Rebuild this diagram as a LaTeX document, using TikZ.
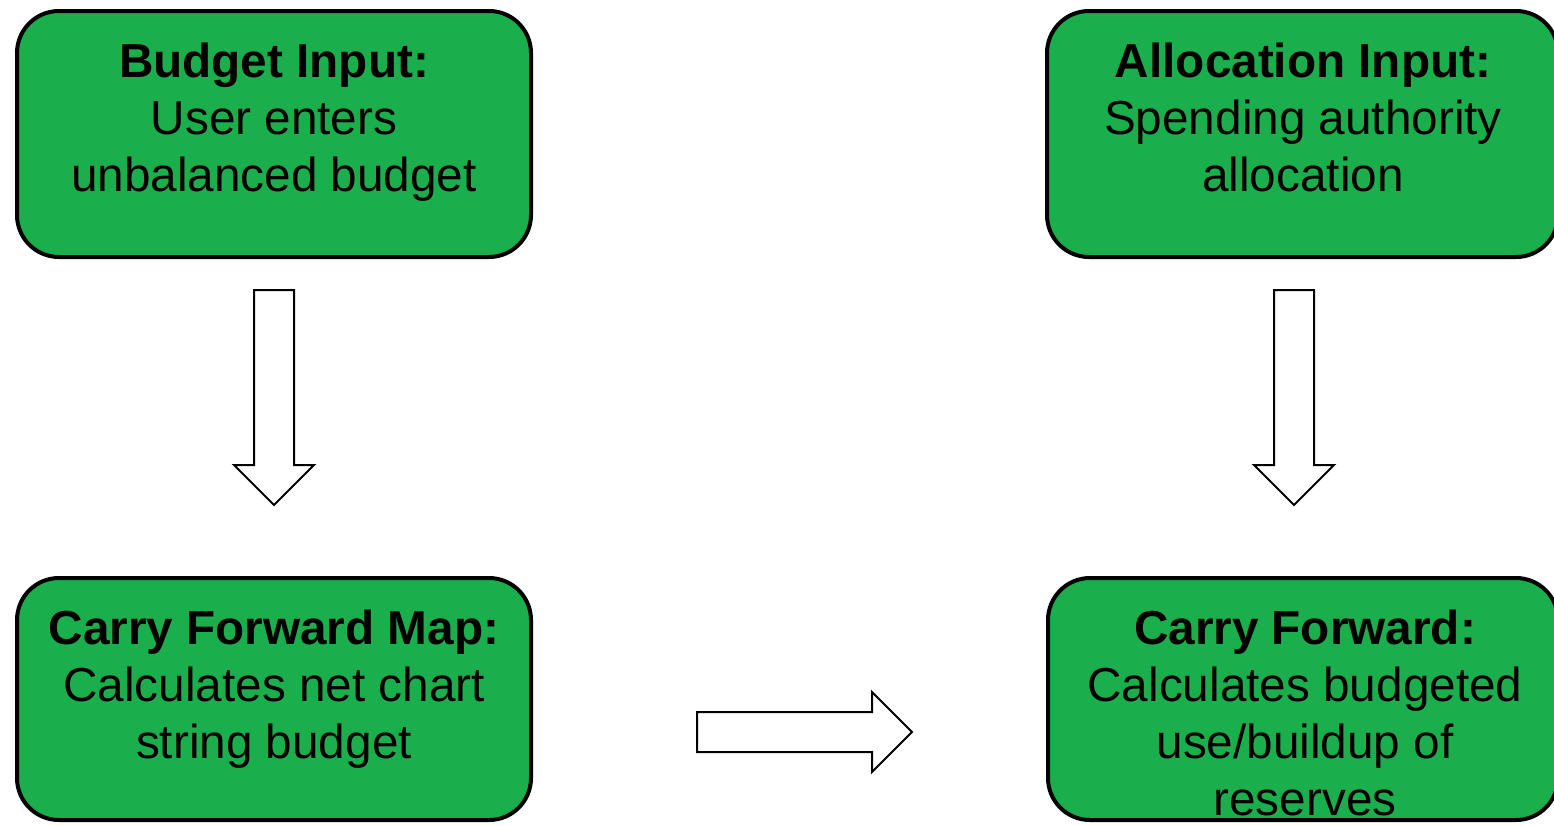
\documentclass[tikz,border=0pt]{standalone}
\usepackage{fontspec}
\setmainfont{Liberation Sans}
\definecolor{boxgreen}{RGB}{27,174,77}
\begin{document}
\begin{tikzpicture}[x=1pt,y=-1pt,
  greenbox/.style={draw=black,line width=4pt,fill=boxgreen,rounded corners=42pt},
  boxtext/.style={anchor=north,inner sep=0pt,align=center,font=\fontsize{47.7}{57}\selectfont},
  blockarrow/.style={draw=black,line width=2pt,fill=white,line join=miter}]
\useasboundingbox (0,0) rectangle (1554,825);
\clip (0,0) rectangle (1554,825);
% boxes
\draw[greenbox] (17,11) rectangle (531,257);
\coordinate (tl) at (274,11);
\draw[greenbox] (1047,11) rectangle (1558,257);
\coordinate (tr) at (1303,11);
\draw[greenbox] (17,578) rectangle (531,820);
\coordinate (bl) at (274,578);
\draw[greenbox] (1048,578) rectangle (1558,820);
\coordinate (br) at (1305,578);
% texts
\node[boxtext] (tltext) at ([yshift=-26pt]tl) {\strut\textbf{Budget Input:}\\User enters\\unbalanced budget};
\node[boxtext] (trtext) at ([yshift=-26pt]tr) {\strut\textbf{Allocation Input:}\\Spending authority\\allocation};
\node[boxtext] (bltext) at ([yshift=-26pt]bl) {\strut\textbf{Carry Forward Map:}\\Calculates net chart\\string budget};
\node[boxtext] (brtext) at ([yshift=-26pt]br) {\strut\textbf{Carry Forward:}\\Calculates budgeted\\use/buildup of\\reserves};
% block arrows
\draw[blockarrow] (254,290) -- (294,290) -- (294,465) -- (314,465) -- (274,505) -- (234,465) -- (254,465) -- cycle;
\draw[blockarrow] (1274,290) -- (1314,290) -- (1314,465) -- (1334,465) -- (1294,505) -- (1254,465) -- (1274,465) -- cycle;
\draw[blockarrow] (697,712) -- (872,712) -- (872,692) -- (912,732) -- (872,772) -- (872,752) -- (697,752) -- cycle;
\end{tikzpicture}
\end{document}
